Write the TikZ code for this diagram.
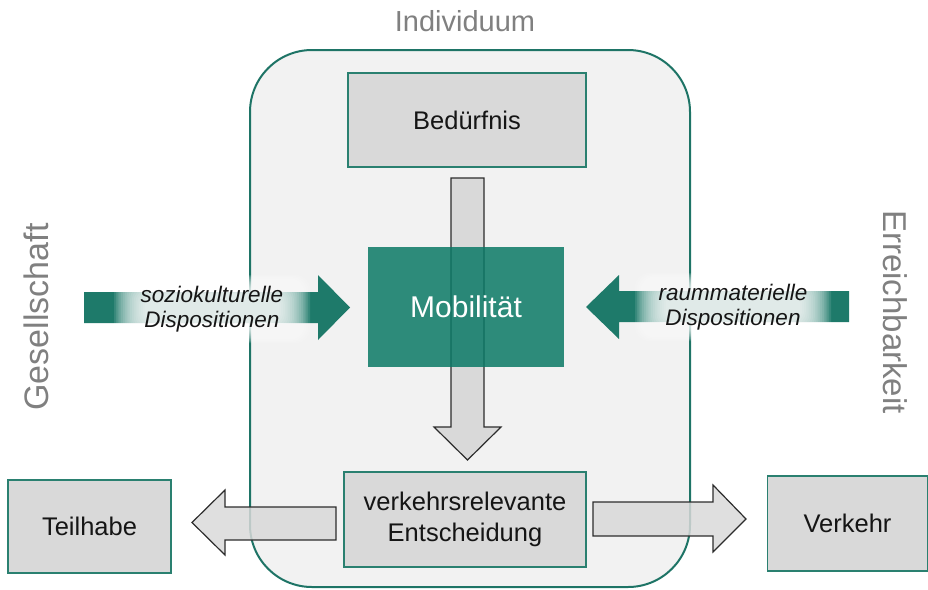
\documentclass[tikz,border=0pt]{standalone}
\usepackage{fontspec}
\setmainfont{Liberation Sans}
\definecolor{frame}{HTML}{1E7466}
\definecolor{boxline}{HTML}{2A8070}
\definecolor{boxfill}{HTML}{D9D9D9}
\definecolor{panel}{HTML}{F2F2F2}
\definecolor{mob}{HTML}{0B7966}
\definecolor{tealarrow}{HTML}{1E7A6A}
\definecolor{caption}{HTML}{808080}
\definecolor{ink}{HTML}{151515}
\tikzset{
  stepbox/.style={draw=boxline, fill=boxfill, line width=1.3pt, inner sep=0pt,
    align=center, text=ink, font=\fontsize{25.5}{31}\selectfont},
  blockarrow/.style={draw=ink!90, fill=boxfill, fill opacity=0.85, line width=1.2pt, line join=miter},
  influence/.style={fill=tealarrow},
  sidelabel/.style={text=caption, inner sep=0pt, font=\fontsize{#1}{#1}\selectfont},
  disp/.style={align=center, text=ink, inner sep=0pt,
    font=\fontsize{22.5}{25}\selectfont\itshape},
}
% soft white halo behind a label: centre, half width, half height
\newcommand{\halo}[4]{%
  \foreach \i in {0,...,17}{%
    \fill[white, fill opacity=0.11, rounded corners=14pt]
      ({#1-#3-22+1.8*\i},{#2-#4-14+1.1*\i}) rectangle ({#1+#3+22-1.8*\i},{#2+#4+14-1.1*\i});
  }%
}
\begin{document}
\begin{tikzpicture}[x=1pt,y=-1pt]
\useasboundingbox (0,0) rectangle (928,589);

% the individual's panel
\fill[panel, rounded corners=62pt] (250,50) rectangle (690,587);
\node[sidelabel=29] (individuum) at (465,21) {Individuum};

% side captions
\node[sidelabel=34, rotate=90] (gesellschaft) at (36,317) {Gesellschaft};
\node[sidelabel=33, rotate=-90] (erreichbarkeit) at (895,312) {Erreichbarkeit};

% need -> mobility -> decision
\node[stepbox, minimum width=238pt, minimum height=94pt] (beduerfnis) at (467,120) {Bedürfnis};
\draw[blockarrow, fill opacity=1]
  (451,178) -- (484,178) -- (484,427) -- (501,427) -- (467.5,460) -- (434,427) -- (451,427) -- cycle;
\node[fill=mob, fill opacity=0.85, text opacity=1, text=white, inner sep=0pt,
  minimum width=196pt, minimum height=120pt, font=\fontsize{30}{36}\selectfont] (mobilitaet) at (466,307) {Mobilität};
\node[stepbox, minimum width=242pt, minimum height=95pt] (entscheidung) at (465,519.5) {verkehrsrelevante\\Entscheidung};

% outcomes
\node[stepbox, minimum width=163pt, minimum height=93pt] (teilhabe) at (89.5,526.5) {Teilhabe};
\node[stepbox, minimum width=160pt, minimum height=95pt] (verkehr) at (847.5,523.5) {Verkehr};

% influences from society and space
\fill[influence] (84,292) -- (318,292) -- (318,275) -- (350,307.5) -- (318,340) -- (318,323) -- (84,323) -- cycle;
\fill[influence] (849,291) -- (619,291) -- (619,275) -- (586,307) -- (619,339) -- (619,322) -- (849,322) -- cycle;

% panel outline above the crossing arrows
\draw[frame, line width=2pt, rounded corners=62pt] (250,50) rectangle (690,587);

\halo{212}{309}{76}{20}
\node[disp] (sozio) at (212,309) {soziokulturelle\\Dispositionen};
\halo{733}{307}{76}{20}
\node[disp] (raum) at (733,307) {raummaterielle\\Dispositionen};

% decision consequences
\draw[blockarrow] (336,507) -- (225,507) -- (225,490) -- (192,522.5) -- (225,555) -- (225,540) -- (336,540) -- cycle;
\draw[blockarrow] (593,502) -- (713,502) -- (713,485) -- (746,519) -- (713,552) -- (713,536) -- (593,536) -- cycle;
\end{tikzpicture}
\end{document}
